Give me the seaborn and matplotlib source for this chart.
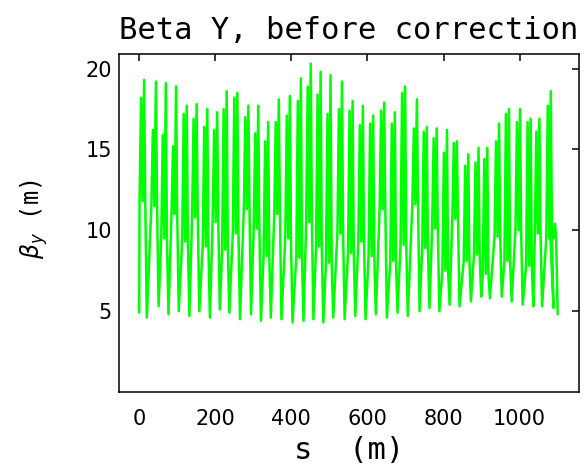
import pandas as pd
import seaborn as sns
import matplotlib.pyplot as plt

# main peak of every cell: position along the ring (m) and beta_y (m)
peak_s = [13, 44, 70, 97, 125, 151, 179, 205, 230, 258,
          287, 313, 339, 367, 396, 425, 451, 477, 503, 533,
          561, 588, 615, 644, 672, 699, 730, 756, 782, 809,
          835, 865, 892, 915, 946, 972, 1001, 1029, 1052, 1082, 1093]
peak_beta = [19.3, 19.2, 19.1, 18.9, 17.7, 17.8, 17.5, 17.3, 18.6, 18.5,
             17.7, 17.7, 16.7, 18.1, 18.3, 19.4, 20.3, 19.8, 19.6, 19.2,
             18.0, 17.7, 17.1, 17.9, 17.3, 18.9, 18.1, 16.4, 16.3, 16.2,
             15.5, 14.7, 15.1, 15.1, 16.6, 17.5, 17.5, 16.9, 16.9, 18.6, 10.4]
# second, lower maximum just before the main one (top of the thick bar)
sub_beta = [18.2, 16.2, 15.9, 15.2, 17.2, 16.9, 16.4, 16.2, 17.5, 18.2,
            17.0, 16.0, 15.5, 16.7, 17.1, 18.0, 18.9, 18.4, 17.2, 17.5,
            17.4, 16.5, 16.6, 17.4, 16.6, 18.5, 16.3, 16.1, 15.7, 14.8,
            15.4, 14.0, 14.2, 14.4, 15.5, 17.2, 16.7, 16.7, 16.1, 17.7, 10.0]
# level where the thin rising / falling strokes meet the thick bar
mid_beta = [11.8, 11.5, 9.5, 11.0, 9.3, 10.8, 9.0, 10.5, 8.8, 9.8,
            11.3, 10.1, 8.4, 11.0, 9.5, 8.3, 10.5, 9.0, 8.0, 9.8,
            8.6, 9.3, 8.4, 11.3, 8.1, 9.1, 11.6, 8.9, 10.1, 7.5,
            10.7, 8.1, 8.5, 7.3, 9.6, 8.1, 10.0, 7.8, 9.8, 9.5, 9.5]
# minima between cells (first at s=0, last at the end of the line)
trough_beta = [4.9, 4.6, 5.3, 4.8, 5.0, 4.7, 5.0, 4.6, 5.1, 4.9,
               4.5, 4.8, 4.4, 4.6, 4.5, 4.3, 4.4, 4.5, 4.3, 4.6,
               4.5, 4.7, 4.5, 4.8, 4.6, 4.9, 4.7, 5.0, 5.2, 5.0,
               5.4, 5.3, 5.6, 5.9, 5.8, 5.9, 5.6, 5.4, 5.3, 5.3, 5.2, 4.8]
s_start, s_end = 0, 1100

# one cell: trough, steep rise, lower max, dip, main max, fall, trough
rows = [(s_start, trough_beta[0])]
for k, p in enumerate(peak_s):
    rows += [(p - 12, mid_beta[k]), (p - 8, sub_beta[k]), (p - 4, mid_beta[k]),
             (p, peak_beta[k]), (p + 3, mid_beta[k])]
    rows.append((min(p + 7, s_end), trough_beta[k + 1]))
df = pd.DataFrame(rows, columns=['s', 'beta'])

sns.set_style('white')
plt.rcParams['font.family'] = ['DejaVu Sans']
plt.rcParams['text.color'] = 'black'
plt.rcParams['axes.labelcolor'] = 'black'
mono = 'DejaVu Sans Mono'

fig = plt.figure(figsize=(5.84, 4.70), dpi=100)
ax = fig.add_axes([0.2038, 0.166, 0.7876, 0.719])
sns.lineplot(data=df, x='s', y='beta', sort=False, estimator=None,
             color='#00ff00', linewidth=1.8, ax=ax)

ax.set_xlim(-53, 1156)
ax.set_ylim(0, 20.9)
ax.set_xticks([0, 200, 400, 600, 800, 1000])
ax.set_yticks([5, 10, 15, 20])
ax.tick_params(direction='in', length=5, width=1.1, top=True, right=True,
               labelsize=15, colors='black')
ax.tick_params(axis='x', pad=12)
ax.tick_params(axis='y', pad=5)
for sp in ax.spines.values():
    sp.set_color('black')
    sp.set_linewidth(1.1)

ax.set_title('Beta Y, before correction', fontsize=22, family=mono, pad=11,
             color='black')
ax.set_xlabel('s  (m)', fontsize=22, family=mono)
ax.xaxis.set_label_coords(0.5, -0.13)
ax.set_ylabel(r'$\beta_y$ (m)', fontsize=17, family=mono)
ax.yaxis.set_label_coords(-0.15, 0.51)

fig.savefig('out.png', dpi=100)
